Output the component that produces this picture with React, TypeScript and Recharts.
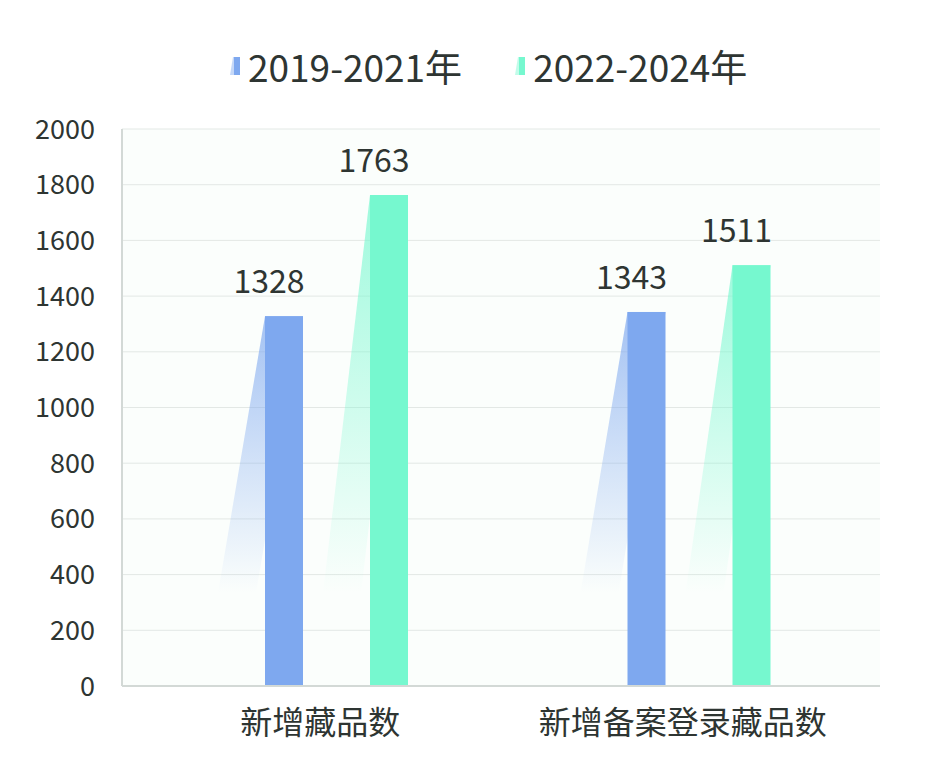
import React from 'react';
import { BarChart, Bar, XAxis, YAxis, CartesianGrid, LabelList } from 'recharts';

const categories = ['新增藏品数', '新增备案登录藏品数'];
const seriesNames = ['2019-2021年', '2022-2024年'];
const values2019 = [1328, 1343];
const values2022 = [1763, 1511];
const yTicks = [0, 200, 400, 600, 800, 1000, 1200, 1400, 1600, 1800, 2000];

const COLORS = ['#7EA8EF', '#76F8CF'];
const TEXT = '#2E3532';
const FONT = '"Noto Sans CJK SC", "Noto Sans", sans-serif';

const data = categories.map((name, i) => ({ name, a: values2019[i], b: values2022[i] }));

const ShadowBar = (props: any) => {
  const { x, y, width, height, color, gradId } = props;
  if (width == null || height == null) return null;
  const bottom = y + height;
  const sb = bottom - 93;
  const off = 47;
  const pts = `${x},${y} ${x + width},${y} ${x + width - off},${sb} ${x - off},${sb}`;
  return (
    <g>
      <polygon points={pts} fill={`url(#${gradId})`} />
      <rect x={x} y={y} width={width} height={height} fill={color} />
    </g>
  );
};

const ValueLabel = (props: any) => {
  const { x, y, width, value } = props;
  return (
    <text
      x={x + width / 2 - 15}
      y={y - 23}
      textAnchor="middle"
      fontSize={32}
      fill={TEXT}
      fontFamily={FONT}
    >
      {value}
    </text>
  );
};

const LegendIcon = ({ color }: { color: string }) => (
  <svg width={12} height={22} style={{ marginRight: 7 }}>
    <polygon points="4,2 10,2 10,20 1,20" fill={color} opacity={0.45} />
    <rect x={5} y={2} width={6} height={18} fill={color} />
  </svg>
);

export default function App() {
  return (
    <div style={{ position: 'absolute', left: 0, top: 0, width: 927, height: 771, background: '#fff' }}>
      <div
        style={{
          position: 'absolute',
          left: 229,
          top: 42,
          height: 48,
          display: 'flex',
          alignItems: 'center',
          fontFamily: FONT,
          fontSize: 37,
          color: TEXT,
        }}
      >
        {seriesNames.map((n, i) => (
          <div key={n} style={{ display: 'flex', alignItems: 'center', marginRight: i === 0 ? 52 : 0 }}>
            <LegendIcon color={COLORS[i]} />
            <span>{n}</span>
          </div>
        ))}
      </div>
      <BarChart
        width={927}
        height={771}
        data={data}
        margin={{ top: 129, right: 47, bottom: 0, left: 0 }}
        barSize={38}
        barGap={67}
      >
        <defs>
          {COLORS.map((c, i) => (
            <linearGradient key={i} id={`shadow${i}`} x1="0" y1="0" x2="0" y2="1">
              <stop offset="0%" stopColor={c} stopOpacity={0.7} />
              <stop offset="60%" stopColor={c} stopOpacity={0.28} />
              <stop offset="100%" stopColor={c} stopOpacity={0} />
            </linearGradient>
          ))}
        </defs>
        <CartesianGrid vertical={false} stroke="#E3E8E5" fill="#FBFEFC" />
        <XAxis
          dataKey="name"
          height={85}
          padding={{ left: 33, right: 0 }}
          tickLine={false}
          tickSize={0}
          tickMargin={25}
          axisLine={{ stroke: '#D3D9D6', strokeWidth: 2 }}
          tick={{ fontSize: 32, fill: TEXT, fontFamily: FONT, dx: -16 }}
        />
        <YAxis
          width={122}
          domain={[0, 2000]}
          ticks={yTicks}
          interval={0}
          tickLine={false}
          tickSize={0}
          tickMargin={27}
          axisLine={{ stroke: '#D3D9D6', strokeWidth: 2 }}
          tick={{ fontSize: 27, fill: TEXT, fontFamily: FONT }}
        />
        <YAxis
          yAxisId="minor"
          width={0}
          mirror
          domain={[0, 2000]}
          tickCount={51}
          interval={0}
          axisLine={false}
          tickLine={{ stroke: '#DDE3E0' }}
          tickSize={5}
          tick={() => <g />}
        />
        <YAxis
          yAxisId="right"
          orientation="right"
          width={0}
          domain={[0, 2000]}
          tick={false}
          tickLine={false}
          axisLine={{ stroke: '#DDE2DF', strokeWidth: 1.5 }}
        />
        <Bar
          dataKey="a"
          name={seriesNames[0]}
          isAnimationActive={false}
          shape={(p: any) => <ShadowBar {...p} color={COLORS[0]} gradId="shadow0" />}
        >
          <LabelList dataKey="a" content={ValueLabel} />
        </Bar>
        <Bar
          dataKey="b"
          name={seriesNames[1]}
          isAnimationActive={false}
          shape={(p: any) => <ShadowBar {...p} color={COLORS[1]} gradId="shadow1" />}
        >
          <LabelList dataKey="b" content={ValueLabel} />
        </Bar>
      </BarChart>
    </div>
  );
}
